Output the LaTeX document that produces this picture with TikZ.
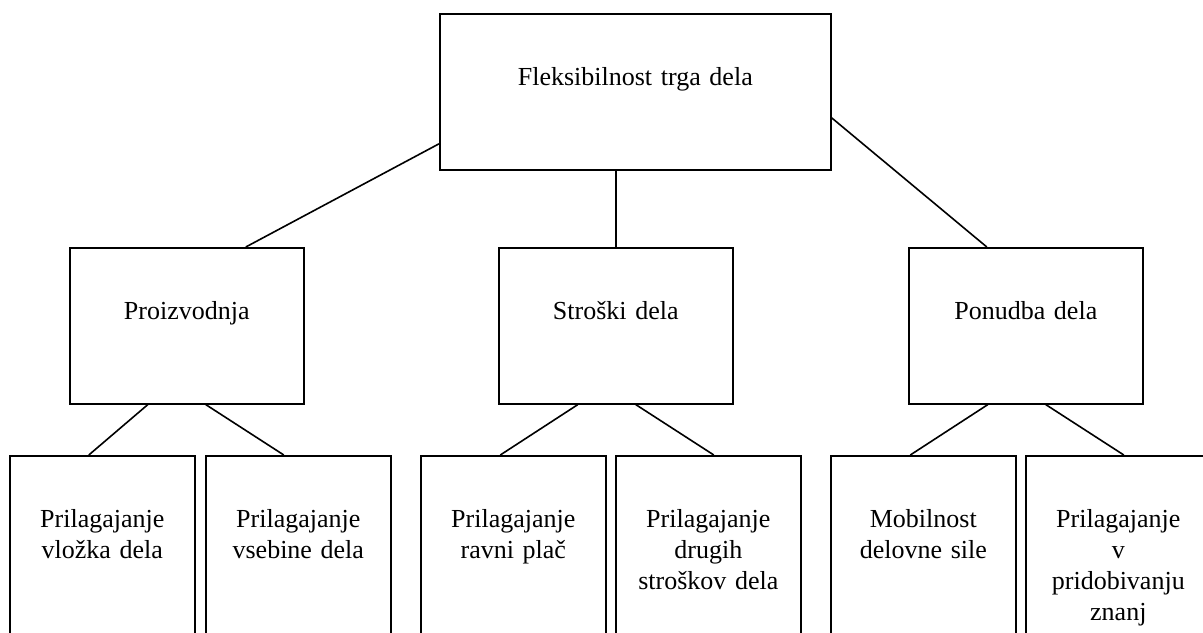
\documentclass[tikz,border=0pt]{standalone}
\usepackage{fontspec}
\setmainfont{Liberation Serif}
\begin{document}
\begin{tikzpicture}[x=0.5pt, y=-0.5pt, line width=0.8pt,
  box/.style={draw, anchor=north west, align=center, inner sep=0pt, text height=36pt, font=\fontsize{13}{15.5}\selectfont},
  big/.style={box, text width=195.5pt, text depth=42pt},
  mid/.style={box, text width=117pt, text depth=42pt},
  low/.style={box, text width=92.5pt, text depth=70pt}]
\useasboundingbox (0,0) rectangle (1203,632);
\clip (0,0) rectangle (1203,632);
\node[big] (N_0_0) at (439,13) {Fleksibilnost trga dela};
\node[mid] (N_1_0) at (69,247) {Proizvodnja};
\draw ([yshift=-26pt]N_0_0.west) -- ([xshift=29.5pt]N_1_0.north);
\node[mid] (N_1_1) at (498,247) {Stroški dela};
\draw (N_1_1.north) -- (N_1_1.north |- N_0_0.south);
\node[mid] (N_1_2) at (908,247) {Ponudba dela};
\draw ([yshift=-13pt]N_0_0.east) -- ([xshift=-19.5pt]N_1_2.north);
\node[low] (N_2_0) at (9,455) {Prilagajanje\\vložka dela};
\draw ([xshift=-19.5pt]N_1_0.south) -- ([xshift=-6.75pt]N_2_0.north);
\node[low] (N_2_1) at (205,455) {Prilagajanje\\vsebine dela};
\draw ([xshift=9.5pt]N_1_0.south) -- ([xshift=-7.25pt]N_2_1.north);
\node[low] (N_2_2) at (420,455) {Prilagajanje\\ravni plač};
\draw ([xshift=-19pt]N_1_1.south) -- ([xshift=-6.5pt]N_2_2.north);
\node[low] (N_2_3) at (615,455) {Prilagajanje\\drugih\\stroškov dela};
\draw ([xshift=10pt]N_1_1.south) -- ([xshift=2.75pt]N_2_3.north);
\node[low] (N_2_4) at (830,455) {Mobilnost\\delovne sile};
\draw ([xshift=-19pt]N_1_2.south) -- ([xshift=-6.5pt]N_2_4.north);
\node[low] (N_2_5) at (1025,455) {Prilagajanje\\v\\pridobivanju\\znanj};
\draw ([xshift=10pt]N_1_2.south) -- ([xshift=2.75pt]N_2_5.north);
\end{tikzpicture}
\end{document}
